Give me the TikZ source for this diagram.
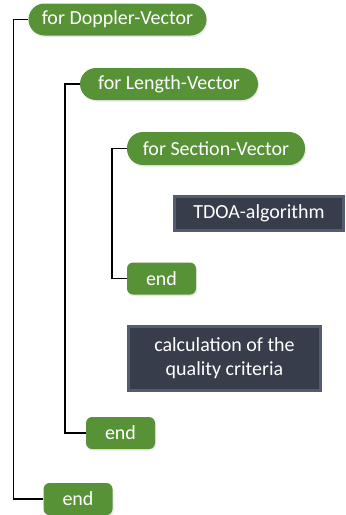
\documentclass[tikz,border=0pt]{standalone}
\usepackage{fontspec}
\setmainfont{Carlito}
\usetikzlibrary{shadows}

\definecolor{loopgreen}{RGB}{88,146,55}
\definecolor{stepdark}{RGB}{56,61,76}
\definecolor{stepbevel}{RGB}{84,92,112}
\definecolor{stepedge}{RGB}{160,178,200}

\begin{document}
\begin{tikzpicture}[x=1pt, y=-1pt,
  loopnode/.style={draw=none, fill=loopgreen, text=white, rounded corners=16pt,
    minimum width=178pt, minimum height=32pt, inner sep=0pt,
    drop shadow={opacity=0.18, shadow xshift=1pt, shadow yshift=-1.5pt},
    font=\fontsize{20}{24}\selectfont},
  endnode/.style={loopnode, rounded corners=6pt, minimum width=69pt},
  calcnode/.style={draw=stepedge, line width=0.5pt, double=stepbevel, double distance=2.5pt,
    fill=stepdark, text=white, inner sep=0pt, align=center,
    font=\fontsize{20}{24}\selectfont},
  link/.style={draw=black, line width=1.4pt}]

\useasboundingbox (0,0) rectangle (346,515);

\node[loopnode] (doppler) at (117.5,19.5) {for Doppler-Vector};
\node[loopnode] (length) at (169,84) {for Length-Vector};
\node[loopnode, minimum height=33pt] (section) at (216,148.5) {for Section-Vector};
\node[calcnode, minimum width=169pt, minimum height=34pt] (tdoa) at (259,213.5) {TDOA-algorithm};
\node[endnode] (endsection) at (161.5,278.5) {end};
\node[calcnode, minimum width=192pt, minimum height=64pt] (quality) at (224.5,358.5)
  {calculation of the\\quality criteria};
\node[endnode] (endlength) at (120.5,433) {end};
\node[endnode] (enddoppler) at (78,499) {end};

% loop brackets
\foreach \from/\to in {doppler/enddoppler, length/endlength, section/endsection}
  \draw[link] (\from.west) -- ++(-15,0) |- (\to.west);
\end{tikzpicture}
\end{document}
